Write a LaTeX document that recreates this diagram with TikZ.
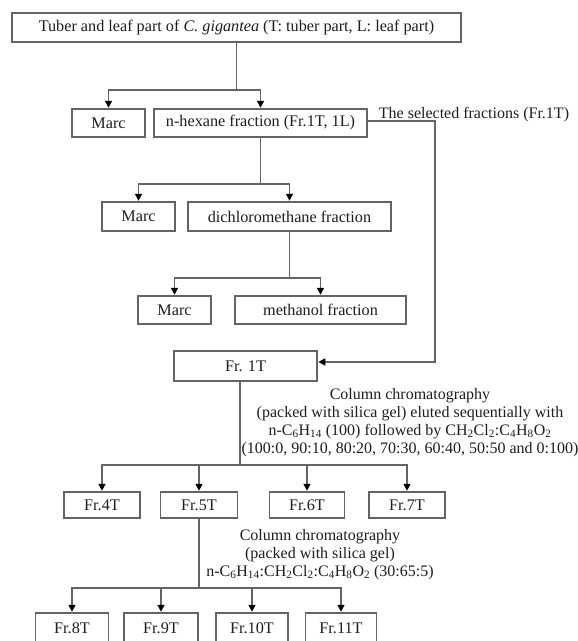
\documentclass[tikz,border=0pt]{standalone}
\usepackage{fontspec}
\setmainfont{Liberation Serif}
\usetikzlibrary{arrows.meta}
\definecolor{linecol}{RGB}{100,100,100}
\definecolor{txtcol}{RGB}{30,30,30}
\tikzset{
  box/.style={draw=linecol, line width=1.5pt, rectangle, inner sep=0pt, text=txtcol, font=\fontsize{16.2}{18}\selectfont},
  lbl/.style={inner sep=0pt, text=txtcol, align=center, font=\fontsize{16}{18}\selectfont},
  conn/.style={draw=linecol, line width=1.5pt},
  arr/.style={conn, -{Triangle[length=7pt,width=7pt,color=black]}, shorten >=0.5pt}
}
\begin{document}
\begin{tikzpicture}[x=1pt,y=-1pt]
\useasboundingbox (0,0) rectangle (578,641);
\clip (0,0) rectangle (578,641);
\fill[white] (0,0) rectangle (578,641);
% nodes
\node[box, minimum width=449, minimum height=29] (top) at (236.5,27.5) {Tuber and leaf part of \textit{C. gigantea} (T: tuber part, L: leaf part)};
\node[box, minimum width=73, minimum height=28] (marc1) at (108.5,123) {Marc};
\node[box, minimum width=213, minimum height=28] (nhex) at (260.5,123) {n-hexane fraction (Fr.1T, 1L)};
\node[lbl] (sel) at (474,114.5) {The selected fractions (Fr.1T)};
\node[box, minimum width=73, minimum height=29] (marc2) at (138.5,216.5) {Marc};
\node[box, minimum width=203, minimum height=29] (dich) at (289.5,216.5) {dichloromethane fraction};
\node[box, minimum width=73, minimum height=28] (marc3) at (174.5,310) {Marc};
\node[box, minimum width=171, minimum height=28] (meth) at (320.5,310) {methanol fraction};
\node[box, minimum width=143, minimum height=30] (fr1) at (245.5,366) {Fr. 1T};
\node[lbl] (cc1) at (410,422.5) {Column chromatography\\(packed with silica gel) eluted sequentially with\\n-C\textsubscript{6}H\textsubscript{14} (100) followed by CH\textsubscript{2}Cl\textsubscript{2}:C\textsubscript{4}H\textsubscript{8}O\textsubscript{2}\\(100:0, 90:10, 80:20, 70:30, 60:40, 50:50 and 0:100)};
\node[box, minimum width=76, minimum height=26] (fr4) at (102,505) {Fr.4T};
\node[box, minimum width=77, minimum height=26] (fr5) at (199,505) {Fr.5T};
\node[box, minimum width=75, minimum height=26] (fr6) at (307,505) {Fr.6T};
\node[box, minimum width=76, minimum height=26] (fr7) at (407,505) {Fr.7T};
\node[lbl] (cc2) at (320,554.5) {Column chromatography\\(packed with silica gel)\\n-C\textsubscript{6}H\textsubscript{14}:CH\textsubscript{2}Cl\textsubscript{2}:C\textsubscript{4}H\textsubscript{8}O\textsubscript{2} (30:65:5)};
\node[box, minimum width=73, minimum height=30] (fr8) at (72,628) {Fr.8T};
\node[box, minimum width=74, minimum height=30] (fr9) at (161,628) {Fr.9T};
\node[box, minimum width=72, minimum height=30] (fr10) at (252,628) {Fr.10T};
\node[box, minimum width=71, minimum height=30] (fr11) at (341,628) {Fr.11T};
% junctions
\coordinate (j1) at (236.5,90);
\coordinate (j2) at (260.5,184);
\coordinate (j3) at (289.5,278);
\coordinate (j4) at (240,465);
\coordinate (j5) at (199,588);
\coordinate (bend) at (435,250);
% connectors
\draw[conn] (top.south) -- (j1);
\draw[arr] (j1) -| (marc1.north);
\draw[arr] (j1) -| (nhex.north);
\draw[conn] (nhex.south) -- (j2);
\draw[arr] (j2) -| (marc2.north);
\draw[arr] (j2) -| (dich.north);
\draw[conn] (dich.south) -- (j3);
\draw[arr] (j3) -| (marc3.north);
\draw[arr] (j3) -| (meth.north);
\draw[arr] ([yshift=2pt]nhex.east) -| (bend) |- ([yshift=4pt]fr1.east);
\draw[conn] (fr1.south -| j4) -- (j4);
\draw[arr] (j4) -| (fr4.north);
\draw[arr] (j4) -| (fr5.north);
\draw[arr] (j4) -| (fr6.north);
\draw[arr] (j4) -| (fr7.north);
\draw[conn] (fr5.south) -- (j5);
\draw[arr] (j5) -| (fr8.north);
\draw[arr] (j5) -| (fr9.north);
\draw[arr] (j5) -| (fr10.north);
\draw[arr] (j5) -| (fr11.north);
\end{tikzpicture}
\end{document}
